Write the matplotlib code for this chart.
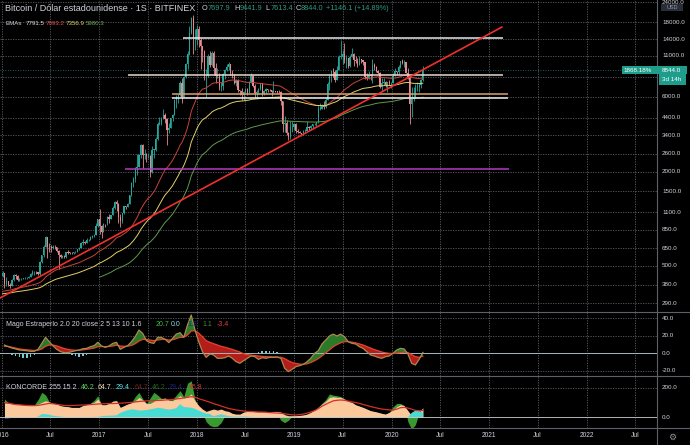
"""
BTC/USD semanal (Bitfinex) estilo TradingView, con EMAs, lineas dibujadas,
oscilador Mago Estraperlo y KONCORDE debajo.
"""
import numpy as np
import pandas as pd
import matplotlib
matplotlib.use("Agg")
import matplotlib.pyplot as plt
import matplotlib.transforms as mtrans
from matplotlib.patches import Rectangle

plt.rcParams["font.family"] = ["Liberation Sans", "DejaVu Sans"]

W, H = 690, 445

# ---------------- velas semanales (lunes 2016-01-04 .. 2020-04-27) ----------------
FIRST_OPEN = 430.0
CLOSE = [
    # 2016
    448, 382, 403, 378, 375, 406, 438, 430, 405, 410, 411, 417, 419, 421, 426, 445, 454,
    458, 455, 443, 530, 584, 665, 765, 663, 660, 655, 665, 660, 624, 588, 570, 580, 570, 610,
    608, 607, 602, 612, 617, 640, 655, 700, 710, 705, 730, 735, 765, 777, 790, 900, 995,
    # 2017
    900, 825, 925, 920, 1020, 1000, 1050, 1170, 1270, 1235, 1020, 970, 1085, 1200, 1180, 1250, 1410,
    1690, 1800, 2100, 2150, 2550, 2950, 2550, 2600, 2500, 2520, 1990, 2750, 2750, 3250,
    4050, 4070, 4350, 4580, 4350, 3700, 3800, 4380, 4600, 5700, 6000, 6150, 7400,
    5950, 8000, 9700, 11200, 15300, 19000, 13800, 13800,
    # 2018
    16200, 13800, 12600, 11800, 8100, 8200, 10900, 9600, 11500, 9200, 8200, 8200, 6900,
    7000, 8350, 8900, 9250, 9650, 8500, 8250, 7350, 7700, 6600, 6500, 6200, 6400,
    6750, 6350, 7400, 8200, 7000, 6300, 6400, 6700, 7300, 6250, 6500, 6700, 6620,
    6600, 6430, 6550, 6460, 6450, 6400, 5600, 4000, 4100, 3550, 3300, 3850, 3850, 4050,
    # 2019
    3650, 3580, 3550, 3450, 3650, 3650, 3850, 3820, 3900, 4000, 4000, 4120,
    5050, 5050, 5300, 5200, 5750, 7200, 8150, 8700, 8600, 7700, 8900, 10800, 10800,
    11300, 10300, 10550, 9500, 10800, 11300, 10300, 10100, 9600,
    10400, 10300, 10000, 8050, 7950, 8300, 8200, 9550, 9300, 8800, 8500, 6900, 7400,
    7500, 7100, 7500, 7300, 7400,
    # 2020
    8100, 8700, 8600, 9350, 10150, 9900, 9950, 8550, 8050, 5400, 5850, 5900, 6800,
    6900, 7100, 7697.9, 8844.0,
]
HIGH = [
    462, 450, 425, 400, 390, 410, 445, 445, 440, 420, 420, 420, 425, 425, 430, 450, 468,
    465, 465, 460, 535, 590, 680, 775, 770, 700, 680, 680, 680, 665, 630, 600, 590, 585, 615,
    630, 612, 610, 615, 625, 645, 660, 715, 745, 720, 755, 745, 775, 785, 795, 935, 1000,
    1150, 915, 935, 930, 1040, 1065, 1060, 1200, 1290, 1320, 1260, 1070, 1095, 1210, 1210, 1260, 1420,
    1720, 1840, 2150, 2600, 2600, 3000, 2990, 2800, 2630, 2640, 2560, 2900, 2800, 3300,
    4150, 4480, 4480, 4980, 4700, 4400, 4100, 4400, 4630, 5800, 6200, 6200, 7600,
    7900, 8100, 9800, 11800, 17000, 19400, 19891, 16300,
    17200, 17000, 14200, 12000, 12000, 9000, 11200, 11800, 11700, 11700, 9900, 9100, 8500,
    7500, 8450, 9000, 9750, 9950, 9650, 8850, 8400, 7800, 7800, 6650, 6800, 6500,
    6800, 6800, 7550, 8500, 8250, 7200, 6600, 6800, 7350, 7400, 6600, 6850, 6750,
    6700, 6620, 7600, 6580, 6530, 6600, 6500, 5650, 4500, 4250, 3600, 4200, 4220, 4100,
    4100, 3750, 3650, 3550, 3700, 3750, 4200, 3900, 3950, 4050, 4100, 4150,
    5300, 5450, 5400, 5650, 5900, 7500, 8400, 8900, 9100, 8900, 9400, 11100, 13900,
    12000, 13200, 11100, 10650, 11100, 12300, 11500, 10950, 10650,
    10900, 10500, 10350, 10050, 8500, 8700, 8400, 10400, 9900, 9500, 8950, 8600, 7900,
    7900, 7550, 7500, 7700, 7500,
    8500, 9100, 8800, 9600, 10200, 10500, 10300, 9950, 9150, 8200, 6950, 6950, 7200,
    7500, 7300, 7800, 9441.9,
]
LOW = [
    425, 360, 375, 370, 364, 370, 400, 410, 400, 400, 405, 410, 410, 415, 418, 425, 440,
    440, 445, 435, 440, 520, 570, 660, 560, 610, 610, 640, 640, 610, 480, 560, 565, 565, 565,
    600, 600, 595, 600, 605, 615, 630, 650, 680, 690, 700, 725, 730, 755, 770, 790, 890,
    800, 750, 820, 880, 910, 940, 990, 1050, 1160, 1120, 940, 890, 940, 1080, 1160, 1180, 1240,
    1400, 1600, 1720, 1900, 2150, 2450, 2100, 2400, 2300, 2450, 1850, 1950, 2450, 2700,
    3200, 3950, 3960, 4330, 4100, 2950, 3500, 3800, 4200, 4600, 5100, 5450, 6100,
    5500, 6500, 7900, 9000, 11100, 15000, 11200, 12000,
    12800, 12500, 9000, 10000, 7700, 6000, 8000, 9300, 9400, 8300, 7300, 7900, 6600,
    6500, 6600, 7800, 8700, 8900, 8300, 7950, 7200, 7050, 6400, 6150, 5750, 5750,
    6300, 6150, 6300, 7400, 6900, 5950, 5900, 6250, 6650, 6100, 6150, 6250, 6450,
    6500, 6050, 6350, 6400, 6300, 6350, 5300, 3600, 3600, 3400, 3200, 3250, 3600, 3700,
    3550, 3500, 3500, 3350, 3400, 3550, 3650, 3700, 3700, 3800, 3950, 3900,
    4100, 4950, 5000, 5050, 5100, 5700, 6600, 7500, 8000, 7450, 7700, 8900, 10500,
    9700, 9900, 9100, 9150, 9300, 10800, 9500, 9800, 9350,
    9600, 9900, 9600, 7800, 7700, 7800, 7700, 7300, 8900, 8600, 8400, 6800, 6500,
    7100, 6950, 6450, 7150, 6850,
    7400, 8100, 8250, 8300, 9100, 9700, 9300, 8450, 7800, 4000, 4450, 5650, 5900,
    6500, 6450, 6800, 7613.4,
]

# EMAs: longitud, valor al inicio de 2016, color, desde qué vela se ve
EMA_LEN = [50, 100, 200]
EMA_SEED = [340, 330, 300]
EMA_COLOR = ["#c8443c", "#e2cf6a", "#5f9a4c"]
EMA_FROM = [0, 0, 52]

# lineas dibujadas a mano: (inicio, fin, precio, color)
HLINES = [
    ("2017-11-10", "2021-02-23", 14300, "#e8e8e8"),
    ("2017-04-18", "2021-02-23", 8260, "#ead8cc"),
    ("2017-09-30", "2021-03-12", 6250, "#d9a36c"),
    ("2017-09-30", "2021-03-12", 5870, "#f0f0f0"),
    ("2017-04-07", "2021-03-16", 2086, "#b53cc0"),
]
TREND = [("2015-12-25", 312), ("2021-02-17", 16700)]

PRICE_TICKS = [24000, 18000, 14000, 11000, 8000, 6000, 4400, 3400, 2600, 2000,
               1500, 1100, 850, 650, 500, 380, 290]
HIDDEN_TICKS = [8000]   # tapada por la etiqueta del precio actual

# ---------------- indicadores (cada 2 semanas) ----------------
MAGO_LINE = [
    9.5, 7.6, 6, 5, 3.8, 3.4, 3, 2.3, 2.3, 4.6,
    11.4, 18.3, 13.3, 8.4, 4.6, 1.9, 0.8, 0.8, 1.9, 3,
    3.8, 5.3, 5.7, 7.6, 8.8, 12.6, 8.4, 6.9, 8.4, 11.4,
    12.6, 4.6, 6.9, 8.8, 13.3, 19, 26.6, 22.8, 14.5, 12.2,
    11.4, 18.3, 18.3, 16, 12.2, 17.1, 22, 23.6, 18.3, 32.4,
    43.8, 26.6, 13.3, 1.9, -4.6, -0.8, -1.9, -5.7, -5.7, -5,
    -3, -5.7, -9.5, -11.4, -8.4, -5.7, -3, -3.8, -6.9, -5,
    -5.7, -4.6, -4.6, -4.2, -5.7, -17.1, -20.9, -18.3, -15.2, -14.1,
    -12.6, -9.5, -5.7, 0, 3, 10.7, 15.2, 19.8, 22, 19.8,
    22, 19, 13.3, 11.4, 10.7, 7.6, 5.7, 1.9, -1.9, -3,
    -4.6, -5.7, -3.8, -3, 0, 3.8, 5.7, 5, -0.8, -11.4,
    -13.3, -6.9, 1.1,
]
MAGO_SIGNAL = [
    8, 8, 7, 6, 5, 4.5, 4, 3.6, 3.3, 3.5,
    5, 8, 9.5, 9.5, 8.5, 7, 5.5, 4.5, 3.8, 3.5,
    3.5, 4, 4.5, 5.3, 6, 7.5, 7.8, 7.6, 7.8, 8.4,
    9.2, 8.4, 8, 8.2, 9, 11, 14, 16, 15.8, 15.2,
    14.5, 15.2, 15.8, 16, 15.2, 15.5, 16.8, 18.3, 18.3, 21,
    25.5, 25.8, 23, 19, 14.5, 12.5, 11, 9.5, 8, 7,
    5.7, 4.5, 3, 1.5, -0.5, -1.5, -2, -2.5, -3, -3.5,
    -3.8, -4, -4.2, -4.3, -4.5, -6, -8.5, -10.5, -11.5, -12.3,
    -12.5, -12, -10.5, -8.5, -6, -3, 0.5, 4, 7.5, 10,
    12, 13.3, 13.3, 12.8, 12, 10.8, 9.5, 7.8, 6, 4.3,
    3, 1.5, 0.6, 0, -0.2, 0.2, 0.8, 1.3, 0.9, -1.5,
    -3.8, -4.5, -3.4,
]
MAGO_HIST = [
    0, 0, -1.5, -3, -4.5, -5.5, -5, -4, -2, 0,
    0, 0, 0, 0, 0, 0, 0, 0, -1.5, -3,
    -4, -3, -1.5, 0, 0, 0, 0, 0, 0, 0,
    0, 0, 0, 0, 0, 0, 0, 0, 0, 0,
    0, 0, 0, 0, 0, 0, 0, 0, 0, 0,
    0, 0, 0, 0, 0, 0, 0, 0, 0, 0,
    0, 0, 0, 0, 0, 0, 0, 0, 1.5, 2.5,
    3, 3, 2.5, 1.5, 0, 0, 0, 0, 0, 0,
    0, 0, 0, 0, 0, 0, 0, 0, 0, 0,
    0, 0, 0, 0, 0, 0, 0, 0, 0, 0,
    0, 0, 0, 0, 0, 0, 0, 0, 0, 0,
    0, 0, 0,
]
K_MARRON = [
    97, 94, 92, 90, 88, 85, 85, 85, 85, 90,
    101, 112, 103, 94, 90, 79, 74, 72, 67, 67,
    67, 79, 85, 94, 101, 124, 85, 85, 94, 108,
    112, 67, 79, 90, 97, 112, 135, 117, 94, 94,
    108, 124, 124, 130, 117, 112, 130, 146, 130, 139,
    158, 112, 79, 56, 40, 49, 56, 49, 56, 45,
    40, 27, 22, 22, 34, 40, 45, 38, 38, 40,
    40, 38, 40, 40, 36, 18, 11, 11, 11, 13,
    16, 22, 34, 49, 67, 90, 108, 135, 139, 135,
    135, 124, 108, 101, 85, 76, 67, 56, 45, 40,
    34, 27, 22, 34, 49, 72, 85, 79, 45, 11,
    9, 34, 64.7,
]
K_VERDE = [
    124, 100, 90, 88, 85, 83, 83, 83, 85, 120,
    169, 150, 105, 92, 88, 75, 72, 70, 65, 65,
    65, 80, 85, 95, 115, 146, 85, 83, 92, 110,
    115, 65, 77, 90, 100, 140, 169, 125, 92, 130,
    169, 150, 128, 130, 115, 120, 150, 180, 140, 230,
    247, 120, 70, 30, -30, -55, -63, -60, -35, 10,
    30, 20, 15, 18, 36, 42, 48, 36, 35, 38,
    38, 35, 38, 20, -20, -36, -20, 8, 10, 12,
    14, 20, 32, 50, 70, 95, 120, 158, 150, 146,
    140, 124, 105, 100, 82, 74, 65, 54, 43, 38,
    32, 25, 20, 33, 70, 94, 94, 80, -30, -80,
    -50, 30, 46.2,
]
K_AZUL = [
    -6, -4, 0, 0, 0, 0, 0, 0, 0, 5,
    22, 22, 18, 11, 8, 5, 3, 2, 2, 2,
    2, 2, 2, 2, 3, 3, 8, 10, 11, 12,
    14, 30, 40, 48, 54, 52, 46, 47, 49, 54,
    58, 64, 62, 57, 52, 56, 62, 88, 70, 67,
    65, 58, 45, 34, 25, 22, 8, 15, 20, 15,
    8, 5, 5, 5, 5, 5, 3, 2, 2, 2,
    2, 2, 2, 2, 2, 2, 2, 2, 2, 2,
    2, 2, 2, 2, 2, 2, 2, 2, 2, 2,
    2, 2, 2, 2, 2, 2, 2, 2, 2, 2,
    2, 2, 2, 2, 2, 2, 2, 0, 0, 30,
    45, 45, 29.4,
]
K_MEDIA = [
    99, 96, 91, 86, 84, 82, 80, 79, 79, 81,
    85, 90, 94, 92, 88, 84, 80, 79, 80, 81,
    82, 83, 84, 86, 88, 90, 91, 92, 93, 93,
    94, 95, 97, 99, 101, 104, 107, 109, 111, 112,
    113, 114, 115, 117, 119, 121, 124, 127, 131, 135,
    139, 136, 126, 118, 110, 102, 92, 85, 76, 68,
    60, 55, 50, 46, 43, 40, 39, 38, 36, 35,
    34, 32, 30, 29, 27, 24, 20, 17, 16, 18,
    22, 28, 36, 45, 58, 75, 88, 100, 111, 115,
    117, 115, 110, 104, 100, 94, 87, 80, 73, 67,
    61, 56, 53, 50, 49, 55, 65, 67, 63, 55,
    47, 45, 45.8,
]

# colores
BG = "#000000"
GRID = "#5b5e66"
TXT = "#d1d4dc"
UP = "#26a69a"
DOWN = "#e98a8f"
SEP = "#5d6069"


def ema(values, length, seed):
    a = 2.0 / (length + 1)
    out, prev = [], seed
    for v in values:
        prev = prev + a * (v - prev)
        out.append(prev)
    return np.array(out)


def put(x, y, s, color=TXT, size=5.0, **kw):
    """texto en pixeles de la figura (origen arriba-izquierda)"""
    return fig.text(x / W, 1 - y / H, s, color=color, fontsize=size,
                    va="center", ha=kw.pop("ha", "left"), **kw)


def box(x0, y0, x1, y1, color):
    fig.patches.append(Rectangle((x0 / W, 1 - y1 / H), (x1 - x0) / W, (y1 - y0) / H,
                                 transform=fig.transFigure, facecolor=color,
                                 edgecolor="none", zorder=5))


dates = pd.date_range("2016-01-04", periods=len(CLOSE), freq="7D")
close = np.array(CLOSE, float)
opn = np.concatenate([[FIRST_OPEN], close[:-1]])
high = np.maximum(np.array(HIGH, float), np.maximum(opn, close))
low = np.minimum(np.array(LOW, float), np.minimum(opn, close))
osc_dates = dates[1::2]

x_left = pd.Timestamp("2015-12-25 06:00")
x_right = pd.Timestamp("2022-09-21 12:00")
grid_dates = [pd.Timestamp(f"{y}-{m:02d}-01") for y in range(2016, 2023) for m in (1, 7)]

fig = plt.figure(figsize=(W / 100, H / 100), dpi=100, facecolor=BG)


def make_ax(top, bottom):
    ax = fig.add_axes([0, 1 - bottom / H, 657 / W, (bottom - top) / H])
    ax.set_facecolor(BG)
    for s in ax.spines.values():
        s.set_visible(False)
    ax.set_xticks([])
    ax.set_yticks([])
    ax.set_xlim(x_left, x_right)
    for d in grid_dates:
        ax.axvline(d, color=GRID, lw=0.6, ls=(0, (1.5, 1.5)), zorder=0)
    return ax


def right_labels(ax, values, hidden=()):
    tr = mtrans.blended_transform_factory(ax.transAxes, ax.transData)
    for v in values:
        ax.axhline(v, color=GRID, lw=0.6, ls=(0, (1.5, 1.5)), zorder=0)
        if v in hidden:
            continue
        ax.text(662 / 657, v, f"{v:.1f}", transform=tr, color=TXT, fontsize=4.5,
                va="center", ha="left", clip_on=False)


# ---------------- panel principal ----------------
ax1 = make_ax(0, 312.3)
ax1.set_yscale("log")
ax1.set_ylim(253, 24870)
ax1.set_yticks([])
ax1.minorticks_off()
right_labels(ax1, PRICE_TICKS, HIDDEN_TICKS)

colors = np.where(close >= opn, UP, DOWN)
ax1.vlines(dates, low, high, colors=colors, lw=0.6, zorder=2)
body_lo = np.minimum(opn, close)
body_h = np.maximum(np.abs(close - opn), close * 0.006)
ax1.bar(dates, body_h, bottom=body_lo, width=4.6, color=colors, lw=0, zorder=3)

for n, seed, col, start in zip(EMA_LEN, EMA_SEED, EMA_COLOR, EMA_FROM):
    e = ema(close, n, seed)
    ax1.plot(dates[start:], e[start:], color=col, lw=0.7, zorder=4)

for d0, d1, price, col in HLINES:
    ax1.plot([pd.Timestamp(d0), pd.Timestamp(d1)], [price, price], color=col, lw=1.1,
             zorder=5, solid_capstyle="butt")
ax1.plot([pd.Timestamp(TREND[0][0]), pd.Timestamp(TREND[1][0])],
         [TREND[0][1], TREND[1][1]], color="#f0302c", lw=1.2, zorder=6)
ax1.axhline(close[-1], color=UP, lw=0.6, ls=(0, (1, 2)), alpha=0.8, zorder=1)

# ---------------- Mago Estraperlo ----------------
ax2 = make_ax(312.3, 376)
ax2.set_ylim(-25.9, 46.9)
right_labels(ax2, [40, 20, 0, -20])
ml = np.array(MAGO_LINE)
ms = np.array(MAGO_SIGNAL)
ax2.fill_between(osc_dates, ml, ms, where=ml >= ms, interpolate=True,
                 color="#2a7a2a", lw=0, zorder=2)
ax2.fill_between(osc_dates, ml, ms, where=ml < ms, interpolate=True,
                 color="#b51d1a", lw=0, zorder=2)
ax2.bar(osc_dates, MAGO_HIST, width=6, color="#6fcfd6", lw=0, zorder=3)
ax2.axhline(0, color="#9fb8bc", lw=0.7, zorder=3)
ax2.plot(osc_dates, ms, color="#e0442e", lw=0.9, zorder=4)
ax2.plot(osc_dates, ml, color="#a88a4c", lw=0.9, zorder=4)

# ---------------- KONCORDE ----------------
ax3 = make_ax(376, 428.3)
ax3.set_ylim(-74, 279)
right_labels(ax3, [200, 0])
az = np.array(K_AZUL)
ax3.fill_between(osc_dates, 0, K_VERDE, color="#3a9a32", lw=0, zorder=2)
ax3.fill_between(osc_dates, 0, K_MARRON, color="#fcc99c", lw=0, zorder=3)
ax3.fill_between(osc_dates, 0, az, where=az > 0, interpolate=True,
                 color="#46dcd4", lw=0, zorder=4)
ax3.fill_between(osc_dates, 0, az, where=az < 0, interpolate=True,
                 color="#2b5fd9", lw=0, zorder=4)
ax3.axhline(0, color="#c8c8c8", lw=0.6, zorder=4)
ax3.plot(osc_dates, K_MEDIA, color="#d2302a", lw=0.9, zorder=5)

# ---------------- separadores y eje de tiempo ----------------
for yy in (312.3, 376, 428.3):
    fig.add_artist(plt.Line2D([0, 1], [1 - yy / H] * 2, color=SEP, lw=0.8,
                              transform=fig.transFigure))
fig.add_artist(plt.Line2D([657 / W] * 2, [0, 1], color=SEP, lw=0.8,
                          transform=fig.transFigure))

trx = mtrans.blended_transform_factory(ax3.transData, fig.transFigure)
for d in grid_dates:
    label = str(d.year) if d.month == 1 else "Jul"
    ax3.text(d, 1 - 435.5 / H, label, transform=trx, color=TXT, fontsize=4.8,
             ha="center", va="center", clip_on=False)
put(672, 437, "\u2699", color="#9598a1", size=6.5, ha="center", family="DejaVu Sans")

# ---------------- leyendas ----------------
put(5, 8.3, "Bitcoin / Dólar estadounidense · 1S · BITFINEX", TXT, 6.5)
VAL = "#2f9a80"
for x, k, v in [(202, "O", "7697.9"), (234.5, "H", "9441.9"),
                (265.7, "L", "7613.4"), (295.7, "C", "8844.0")]:
    put(x, 8.3, k, TXT, 5.3)
    put(x + 5.3, 8.3, v, VAL, 5.3)
put(325.5, 8.3, "+1146.1 (+14.89%)", VAL, 5.3)

put(6, 23.3, "EMAs", TXT, 4.4)
for x, v, c in [(25.7, "7791.5", "#e6e6e6"), (45.7, "7893.2", "#e0504a"),
                (66, "7356.9", "#e6d36a"), (85.7, "5980.3", "#6fae5a")]:
    put(x, 23.3, v, c, 4.4)

put(6, 324, "Mago Estraperlo 2.0 20 close 2 5 13 10 1.6", TXT, 5.0)
for x, v, c in [(155.3, "20.7", "#3cbf3c"), (171, "0.0", "#8fd8e0"),
                (187, "1.3", "#1c2a80"), (202, "1.1", "#3d8f3d"), (217, "-3.4", "#e03a3a")]:
    put(x, 324, v, c, 5.0)

put(6, 387.3, "KONCORDE 255 15 2", TXT, 5.0)
for x, v, c in [(81, "46.2", "#5fd35f"), (98, "64.7", "#f2dcc0"), (116, "29.4", "#5fe0e0"),
                (135, "64.7", "#6b1f1f"), (152, "46.2", "#1f5f1f"), (169, "29.4", "#1a2370"),
                (189, "45.8", "#d03030")]:
    put(x, 387.3, v, c, 5.0)

# etiquetas del eje de precios
box(661, 3.8, 683, 10.8, "#2a2e39")
put(672, 7.3, "USD", "#9598a1", 4.0, ha="center", zorder=6)
box(621.7, 66, 687, 74.3, "#1f9d8c")
put(623, 70.2, "1868.18%", "white", 4.5, zorder=6)
put(662, 70.2, "8844.0", "white", 4.5, zorder=6)
box(659, 74.3, 686, 85, "#1f9d8c")
put(662, 79.7, "3d 14h", "white", 4.5, zorder=6)

fig.savefig("out.png", dpi=100, facecolor=BG)
